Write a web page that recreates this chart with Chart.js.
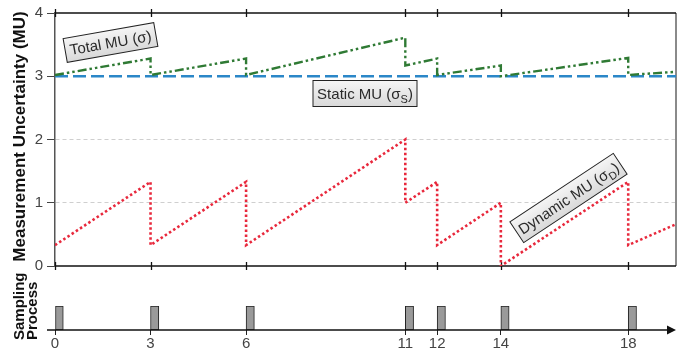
<!DOCTYPE html>
<html>
<head>
<meta charset="utf-8">
<script src="https://cdn.jsdelivr.net/npm/chart.js@4.4.1/dist/chart.umd.min.js"></script>
<style>
  html, body { margin: 0; padding: 0; background: #fff; }
  #wrap { position: relative; width: 683px; height: 349px; }
  #mainBox { position: absolute; left: 0; top: 0; width: 683px; height: 290px; }
  #sampleBox { position: absolute; left: 0; top: 260px; width: 683px; height: 89px; }
</style>
</head>
<body>
<div id="wrap">
  <div id="mainBox"><canvas id="chartMU"></canvas></div>
  <div id="sampleBox"><canvas id="chartSampling"></canvas></div>
</div>
<script>
// ── Data ──
const sampleTimes = [0, 3, 6, 11, 12, 14, 18];
const pulseWidth  = 0.26;
const xMax        = 19.5;
const timeX       = [0, 3, 3, 6, 6, 11, 11, 12, 12, 14, 14, 18, 18, 19.5];
const dynamicMU   = [0.33, 1.33, 0.33, 1.33, 0.33, 2.0, 1.0, 1.33, 0.33, 1.0, 0.0, 1.33, 0.33, 0.66];
const totalMU     = [3.02, 3.28, 3.02, 3.28, 3.02, 3.61, 3.17, 3.28, 3.02, 3.17, 3.0, 3.29, 3.02, 3.07];
const staticX     = [0, 19.5];
const staticMU    = [3, 3];

const RED   = '#e8283c';
const GREEN = '#2f7a34';
const BLUE  = '#2b87c8';

Chart.defaults.font.family = '"Liberation Sans", Arial, sans-serif';
Chart.defaults.animation = false;

const pts = (xs, ys) => xs.map((x, i) => ({ x: x, y: ys[i] }));

// ── helpers ──
function line(ctx, x1, y1, x2, y2) {
  ctx.beginPath();
  ctx.moveTo(x1, y1);
  ctx.lineTo(x2, y2);
  ctx.stroke();
}

// boxed label, parts = [[text, size, dy], ...]
function tag(ctx, cx, cy, angle, w, h, parts) {
  ctx.save();
  ctx.translate(cx, cy);
  ctx.rotate(angle * Math.PI / 180);
  const g = ctx.createLinearGradient(0, -h / 2, 0, h / 2);
  g.addColorStop(0, '#f5f5f5');
  g.addColorStop(1, '#d9d9d9');
  ctx.fillStyle = g;
  ctx.fillRect(-w / 2, -h / 2, w, h);
  ctx.strokeStyle = '#222';
  ctx.lineWidth = 1;
  ctx.strokeRect(-w / 2, -h / 2, w, h);

  ctx.fillStyle = '#2a2a2a';
  ctx.textBaseline = 'alphabetic';
  ctx.textAlign = 'left';
  let total = 0;
  parts.forEach(p => {
    ctx.font = p[1] + 'px "Liberation Sans", Arial, sans-serif';
    total += ctx.measureText(p[0]).width;
  });
  let x = -total / 2;
  parts.forEach(p => {
    ctx.font = p[1] + 'px "Liberation Sans", Arial, sans-serif';
    ctx.fillText(p[0], x, 5.5 + (p[2] || 0));
    x += ctx.measureText(p[0]).width;
  });
  ctx.restore();
}

function vText(ctx, text, x, y, font, align) {
  ctx.save();
  ctx.translate(x, y);
  ctx.rotate(-Math.PI / 2);
  ctx.font = font;
  ctx.fillStyle = '#111';
  ctx.textAlign = align;
  ctx.textBaseline = 'alphabetic';
  ctx.fillText(text, 0, 0);
  ctx.restore();
}

// ── Main chart frame + labels ──
const muFrame = {
  id: 'muFrame',
  beforeDatasetsDraw(chart) {
    const { ctx, chartArea: a, scales: { x } } = chart;
    ctx.save();
    ctx.strokeStyle = '#8a8a8a';
    ctx.lineWidth = 2;
    line(ctx, a.right, a.top, a.right, a.bottom);
    ctx.strokeStyle = '#111';
    ctx.lineWidth = 1.3;
    line(ctx, a.left, a.top, a.right, a.top);
    line(ctx, a.left, a.bottom, a.right, a.bottom);
    sampleTimes.forEach(t => {
      const px = Math.round(x.getPixelForValue(t)) + 0.5;
      line(ctx, px, a.top - 4, px, a.top + 4);
      line(ctx, px, a.bottom - 4, px, a.bottom + 4);
    });
    ctx.restore();
  },
  afterDatasetsDraw(chart) {
    const ctx = chart.ctx;
    tag(ctx, 110.5, 42.5, -10, 92, 24, [['Total MU (σ)', 15]]);
    tag(ctx, 365, 93.5, 0, 104, 26, [['Static MU (σ', 15], ['S', 11, 4], [')', 15]]);
    tag(ctx, 568.5, 198, -33.5, 124, 25, [['Dynamic MU (σ', 15], ['D', 11, 4], [')', 15]]);
    vText(ctx, 'Measurement Uncertainty (MU)', 25, 136.5, 'bold 17px "Liberation Sans", Arial, sans-serif', 'center');
  }
};

new Chart(document.getElementById('chartMU'), {
  type: 'line',
  data: {
    datasets: [
      {
        label: 'Static MU',
        data: pts(staticX, staticMU),
        borderColor: BLUE,
        borderWidth: 2.6,
        borderDash: [13, 5],
        pointRadius: 0,
        order: 3
      },
      {
        label: 'Total MU',
        data: pts(timeX, totalMU),
        borderColor: GREEN,
        borderWidth: 2.4,
        borderDash: [9, 3, 2.5, 3, 2.5, 3],
        pointRadius: 0,
        order: 2
      },
      {
        label: 'Dynamic MU',
        data: pts(timeX, dynamicMU),
        borderColor: RED,
        borderWidth: 2.6,
        borderDash: [2.5, 2.5],
        pointRadius: 0,
        order: 1
      }
    ]
  },
  options: {
    responsive: true,
    maintainAspectRatio: false,
    layout: { padding: { top: 12, right: 7, bottom: 24, left: 0 } },
    plugins: { legend: { display: false }, tooltip: { enabled: false } },
    elements: { line: { tension: 0, fill: false } },
    scales: {
      x: { type: 'linear', min: 0, max: xMax, display: false },
      y: {
        min: 0, max: 4,
        afterFit: s => { s.width = 55; },
        ticks: { stepSize: 1, color: '#444', font: { size: 15 }, padding: 4 },
        grid: {
          color: c => (c.tick && (c.tick.value === 1 || c.tick.value === 2)) ? '#cfcfcf' : 'rgba(0,0,0,0)',
          tickColor: '#444',
          tickLength: 8,
          lineWidth: 1
        },
        border: { display: true, color: '#555', width: 1.5, dash: [4, 3] }
      }
    }
  },
  plugins: [muFrame]
});

// ── Sampling process chart ──
const sampleFrame = {
  id: 'sampleFrame',
  afterDraw(chart) {
    const { ctx, chartArea: a } = chart;
    ctx.save();
    ctx.strokeStyle = '#111';
    ctx.fillStyle = '#111';
    ctx.lineWidth = 1.3;
    line(ctx, a.left - 8, a.bottom, 669, a.bottom);
    ctx.beginPath();
    ctx.moveTo(676, a.bottom);
    ctx.lineTo(667, a.bottom - 4.5);
    ctx.lineTo(667, a.bottom + 4.5);
    ctx.closePath();
    ctx.fill();
    ctx.restore();
    vText(ctx, 'Sampling', 24, 80, 'bold 15px "Liberation Sans", Arial, sans-serif', 'left');
    vText(ctx, 'Process', 37, 80, 'bold 15px "Liberation Sans", Arial, sans-serif', 'left');
  }
};

new Chart(document.getElementById('chartSampling'), {
  type: 'bar',
  data: {
    labels: ['S'],
    datasets: [{
      label: 'Sampling',
      data: sampleTimes.map(t => ({ y: 'S', x: [t, t + pulseWidth] })),
      backgroundColor: '#9a9a9a',
      borderColor: '#222',
      borderWidth: 1,
      borderSkipped: false,
      barThickness: 24
    }]
  },
  options: {
    indexAxis: 'y',
    responsive: true,
    maintainAspectRatio: false,
    layout: { padding: { top: 46, right: 7, bottom: 0, left: 0 } },
    plugins: { legend: { display: false }, tooltip: { enabled: false } },
    scales: {
      x: {
        type: 'linear', min: 0, max: xMax,
        afterBuildTicks: s => { s.ticks = sampleTimes.map(v => ({ value: v })); },
        afterFit: s => { s.height = 19; },
        ticks: { color: '#444', font: { size: 15 }, padding: 0, autoSkip: false, maxRotation: 0 },
        grid: { drawOnChartArea: false, drawTicks: true, tickLength: 5, tickColor: '#222' },
        border: { display: false }
      },
      y: {
        afterFit: s => { s.width = 55; },
        ticks: { display: false },
        grid: { display: false },
        border: { display: false }
      }
    }
  },
  plugins: [sampleFrame]
});
</script>
</body>
</html>
